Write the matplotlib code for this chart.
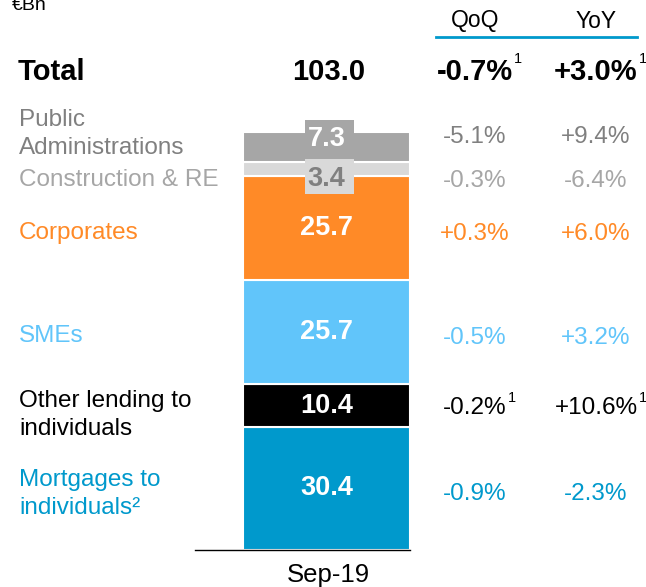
import matplotlib.pyplot as plt
from matplotlib.patches import Rectangle

plt.rcParams['font.family'] = ['Liberation Sans', 'DejaVu Sans']

# Data (bottom to top of the stack)
segments = ["Mortgages to\nindividuals²", "Other lending to\nindividuals", "SMEs",
            "Corporates", "Construction & RE", "Public\nAdministrations"]
values = [30.4, 10.4, 25.7, 25.7, 3.4, 7.3]
qoq = ["-0.9%", "-0.2%", "-0.5%", "+0.3%", "-0.3%", "-5.1%"]
yoy = ["-2.3%", "+10.6%", "+3.2%", "+6.0%", "-6.4%", "+9.4%"]
qoq_note = [False, True, False, False, False, False]
yoy_note = [False, True, False, False, False, False]
total = 103.0
total_qoq = "-0.7%"
total_yoy = "+3.0%"
period = "Sep-19"

bar_colors = ["#0099CC", "#000000", "#61C5FA", "#FF8A27", "#D9D9D9", "#A6A6A6"]
label_colors = ["#0099CC", "#000000", "#61C5FA", "#FF8A27", "#A6A6A6", "#808080"]
value_colors = ["white", "white", "white", "white", "#808080", "white"]

fig = plt.figure(figsize=(6.46, 5.87), dpi=100)
ax = fig.add_axes([0, 0, 1, 1])
# x in pixel-like units, y in €Bn (baseline at pixel 550, top of total at pixel 132)
ppu = (550 - 132) / total
ax.set_xlim(0, 646)
ax.set_ylim(-37 / ppu, 550 / ppu)
ax.axis('off')


def py(p):
    # pixel row from the top -> value units
    return (550 - p) / ppu


def note(t, **kw):
    # superscript "1" just after the right edge of text t
    fig.canvas.draw()
    bb = t.get_window_extent()
    x0, y1 = ax.transData.inverted().transform((bb.x1, bb.y1))
    ax.text(x0 + 1, y1 + 6 / ppu, "1", ha='left', va='top', fontsize=10.5, **kw)


bar_x, bar_w = 326.5, 167
x_label, x_qoq, x_yoy = 19, 475, 596
fs = 17.5

bottom = 0
for i, v in enumerate(values):
    ax.bar(bar_x, v, width=bar_w, bottom=bottom, color=bar_colors[i],
           edgecolor='white', linewidth=1.5)
    mid = bottom + v / 2
    if v < 8:
        # small segments: value in a coloured box that spills outside
        box_c = mid + (10 / ppu if i == 5 else -8 / ppu)
        box_h = 35 / ppu
        ax.add_patch(Rectangle((305, box_c - box_h / 2), 49, box_h,
                               color=bar_colors[i], zorder=3, linewidth=0))
        ty = box_c - 2 / ppu
    else:
        ty = mid
    ax.text(bar_x, ty, f"{v:.1f}", ha='center', va='center', color=value_colors[i],
            fontsize=19.5, fontweight='bold', zorder=4)
    bottom += v

# label / change rows (y positions in pixels per row)
label_py = [494, 415, 336, 233, 180, 134]
label_ls = [1.3, 1.3, 1.2, 1.2, 1.2, 1.38]
change_py = [494, 408, 338, 234, 181, 137]
for i in range(len(values)):
    ax.text(x_label, py(label_py[i]), segments[i], ha='left', va='center',
            color=label_colors[i], fontsize=fs, linespacing=label_ls[i])
    tq = ax.text(x_qoq, py(change_py[i]), qoq[i], ha='center', va='center',
                 color=label_colors[i], fontsize=fs)
    tyy = ax.text(x_yoy, py(change_py[i]), yoy[i], ha='center', va='center',
                  color=label_colors[i], fontsize=fs)
    if qoq_note[i]:
        note(tq)
    if yoy_note[i]:
        note(tyy)

# baseline
ax.plot([195, 410], [0, 0], color='black', linewidth=1)
ax.text(bar_x + 2, py(575), period, ha='center', va='center', fontsize=18.5)

# header
ty = py(72)
ax.text(18, ty, "Total", ha='left', va='center', fontsize=21, fontweight='bold')
ax.text(bar_x + 2, ty, f"{total:.1f}", ha='center', va='center', fontsize=21, fontweight='bold')
t1 = ax.text(x_qoq, ty, total_qoq, ha='center', va='center', fontsize=21, fontweight='bold')
t2 = ax.text(x_yoy, ty, total_yoy, ha='center', va='center', fontsize=21, fontweight='bold')
note(t1)
note(t2)

ax.text(x_qoq, py(21), "QoQ", ha='center', va='center', fontsize=16.5)
ax.text(x_yoy, py(21), "YoY", ha='center', va='center', fontsize=16.5)
ax.plot([436, 637], [py(37)] * 2, color='#0099CC', linewidth=2)
ax.text(12, py(5), "€Bn", ha='left', va='center', fontsize=14)

fig.savefig("out.png", dpi=100)
